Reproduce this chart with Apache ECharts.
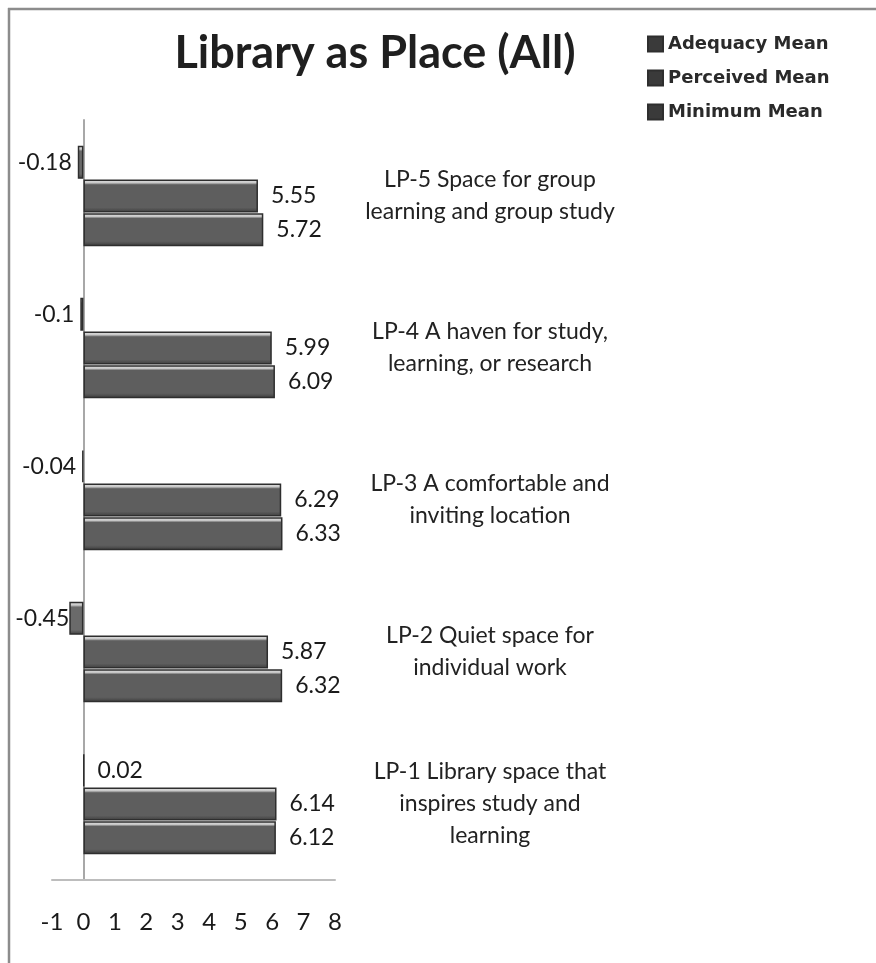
<!DOCTYPE html>
<html>
<head>
<meta charset="utf-8">
<title>Library as Place (All)</title>
<script src="https://cdn.jsdelivr.net/npm/echarts@6/dist/echarts.min.js"></script>
<style>
  html, body { margin: 0; padding: 0; background: #ffffff; }
  #chart { width: 876px; height: 963px; }
</style>
</head>
<body>
<div id="chart"></div>
<script>
// Category labels, listed bottom-to-top along the category axis
const categories = [
  'LP-1 Library space that\ninspires study and\nlearning',
  'LP-2 Quiet space for\nindividual work',
  'LP-3 A comfortable and\ninviting location',
  'LP-4 A haven for study,\nlearning, or research',
  'LP-5 Space for group\nlearning and group study'
];
const seriesNames = ['Adequacy Mean', 'Perceived Mean', 'Minimum Mean'];
const adequacyMean = [0.02, -0.45, -0.04, -0.1, -0.18];
const perceivedMean = [6.14, 5.87, 6.29, 5.99, 5.55];
const minimumMean = [6.12, 6.32, 6.33, 6.09, 5.72];
const valueTicks = { min: -1, max: 8, step: 1 };

const chart = echarts.init(document.getElementById('chart'), null, { renderer: 'canvas' });

// Grey bar face with a pale bevel along the top edge
function barFill(base) {
  return new echarts.graphic.LinearGradient(0, 0, 0, 1, [
    { offset: 0, color: '#e4e4e4' },
    { offset: 0.10, color: '#c8c8c8' },
    { offset: 0.16, color: base },
    { offset: 0.85, color: base },
    { offset: 1, color: '#3c3c3c' }
  ]);
}

const labelFont = { fontFamily: 'Lato', fontSize: 23, color: '#1a1a1a' };

function makeSeries(name, values, base) {
  return {
    name: name,
    type: 'bar',
    barWidth: 33,
    barGap: '2%',
    data: values.map(v => ({
      value: v,
      label: {
        position: v < 0 ? 'left' : 'right',
        distance: v < -0.3 ? 0 : (v < 0 ? 6 : 13)
      }
    })),
    itemStyle: { color: barFill(base), borderColor: '#2e2e2e', borderWidth: 1.5 },
    label: Object.assign({ show: true, formatter: p => String(p.value) }, labelFont),
    emphasis: { disabled: true }
  };
}

const option = {
  backgroundColor: '#ffffff',
  animation: false,
  title: {
    text: 'Library as Place (All)',
    left: 370,
    textAlign: 'center',
    top: 26,
    textStyle: { fontFamily: 'Lato', fontWeight: 'bold', fontSize: 45, color: '#1f1f1f' }
  },
  legend: {
    orient: 'vertical',
    left: 642,
    top: 30,
    itemWidth: 15,
    itemHeight: 15,
    itemGap: 16,
    icon: 'rect',
    data: seriesNames,
    textStyle: { fontFamily: 'DejaVu Sans', fontWeight: 'bold', fontSize: 18, color: '#2a2a2a' },
    itemStyle: { color: '#3a3a3a' }
  },
  grid: { left: 52, right: 541, top: 120, bottom: 83, containLabel: false },
  xAxis: {
    type: 'value',
    min: valueTicks.min,
    max: valueTicks.max,
    interval: valueTicks.step,
    axisLine: { show: true, lineStyle: { color: '#bdbdbd', width: 2 } },
    axisTick: { show: false },
    splitLine: { show: false },
    axisLabel: { margin: 30, fontFamily: 'Lato', fontSize: 24, color: '#1a1a1a' }
  },
  yAxis: [
    {
      // vertical wall line at zero
      type: 'category',
      data: categories,
      position: 'left',
      axisLine: { show: true, onZero: true, lineStyle: { color: '#a8a8a8', width: 2 } },
      axisTick: { show: false },
      axisLabel: { show: false }
    },
    {
      // category names set to the right of the plot
      type: 'category',
      data: categories,
      position: 'right',
      axisLine: { show: false },
      axisTick: { show: false },
      axisLabel: {
        margin: 155,
        align: 'center',
        fontFamily: 'Lato',
        fontSize: 23,
        lineHeight: 32,
        color: '#222222'
      }
    }
  ],
  series: [
    makeSeries(seriesNames[0], adequacyMean, '#6a6a6a'),
    makeSeries(seriesNames[1], perceivedMean, '#5e5e5e'),
    makeSeries(seriesNames[2], minimumMean, '#5e5e5e')
  ],
  graphic: [
    // chart frame, top and left edges
    { type: 'line', shape: { x1: 8, y1: 9, x2: 876, y2: 9 }, style: { stroke: '#8c8c8c', lineWidth: 2.5 }, silent: true },
    { type: 'line', shape: { x1: 9, y1: 8, x2: 9, y2: 963 }, style: { stroke: '#8c8c8c', lineWidth: 2.5 }, silent: true }
  ]
};

chart.setOption(option);
</script>
</body>
</html>
